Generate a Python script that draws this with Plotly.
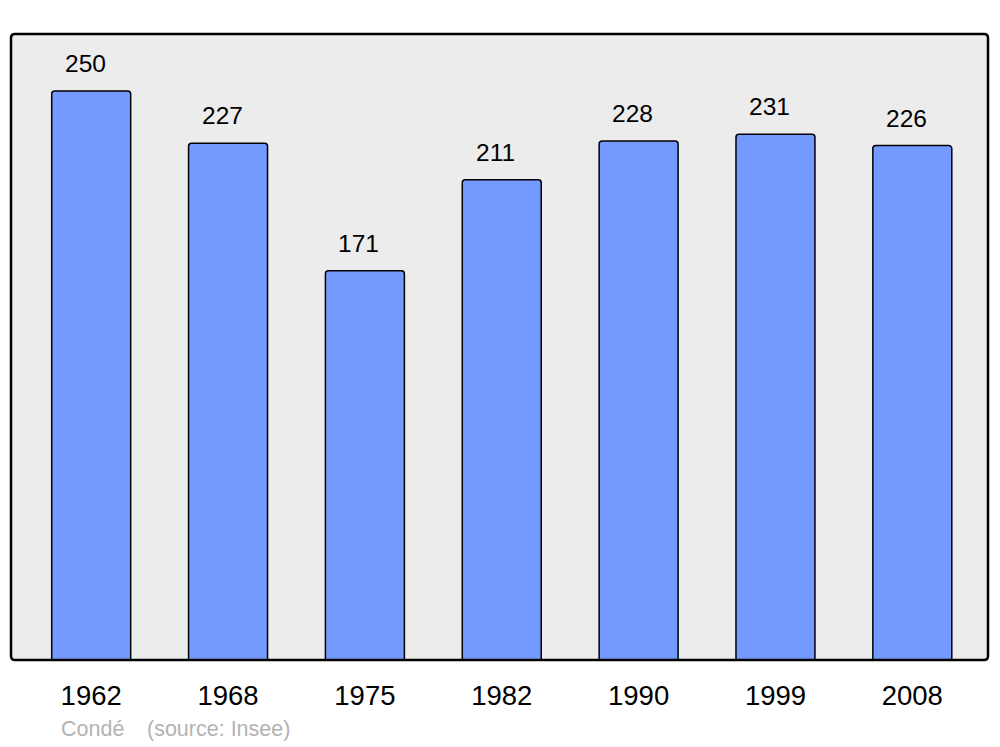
import plotly.graph_objects as go

years = ["1962", "1968", "1975", "1982", "1990", "1999", "2008"]
population = [250, 227, 171, 211, 228, 231, 226]
commune = "Condé"
source = "(source: Insee)"

W, H = 1000, 747
L, R, T, B = 11, 12, 34, 87
FONT = "Liberation Sans, Arial, sans-serif"

fig = go.Figure()
fig.add_trace(go.Bar(
    x=years, y=population, width=0.577,
    marker=dict(color="#7499ff", line=dict(color="black", width=1.5), cornerradius=3),
    hoverinfo="skip",
))

for i, v in enumerate(population):
    fig.add_annotation(x=i, y=v, text=str(v), showarrow=False, xref="x", yref="y",
                       yanchor="bottom", xshift=-6, yshift=12,
                       font=dict(family=FONT, size=24.5, color="black"))

# frame with slightly rounded corners
pw, ph = W - L - R, H - T - B
rx, ry = 4 / pw, 4 / ph
path = (f"M {rx},0 L {1-rx},0 Q 1,0 1,{ry} L 1,{1-ry} Q 1,1 {1-rx},1 "
        f"L {rx},1 Q 0,1 0,{1-ry} L 0,{ry} Q 0,0 {rx},0 Z")
fig.add_shape(type="path", path=path, xref="paper", yref="paper",
              line=dict(color="black", width=2.5), layer="above")

foot_y = (H - B - 743) / ph
fig.add_annotation(text=commune, x=(59 - L) / pw, y=foot_y, xref="paper", yref="paper",
                   xanchor="left", yanchor="bottom", showarrow=False,
                   font=dict(family=FONT, size=21.5, color="#b3b3b3"))
fig.add_annotation(text=source, x=(145 - L) / pw, y=foot_y, xref="paper", yref="paper",
                   xanchor="left", yanchor="bottom", showarrow=False,
                   font=dict(family=FONT, size=21.5, color="#b3b3b3"))

fig.update_layout(
    width=W, height=H,
    margin=dict(l=L, r=R, t=T, b=B),
    paper_bgcolor="white", plot_bgcolor="#ececec",
    showlegend=False,
    xaxis=dict(type="category", range=[-0.586, 6.553], showgrid=False, zeroline=False,
               showline=False, ticks="", ticklabelstandoff=16,
               tickfont=dict(family=FONT, size=27.5, color="black")),
    yaxis=dict(range=[0, 275], showgrid=False, zeroline=False, showline=False,
               showticklabels=False, ticks=""),
)

fig.write_html("out.html", config={"displayModeBar": False},
               post_script="document.body.style.margin='0';")
